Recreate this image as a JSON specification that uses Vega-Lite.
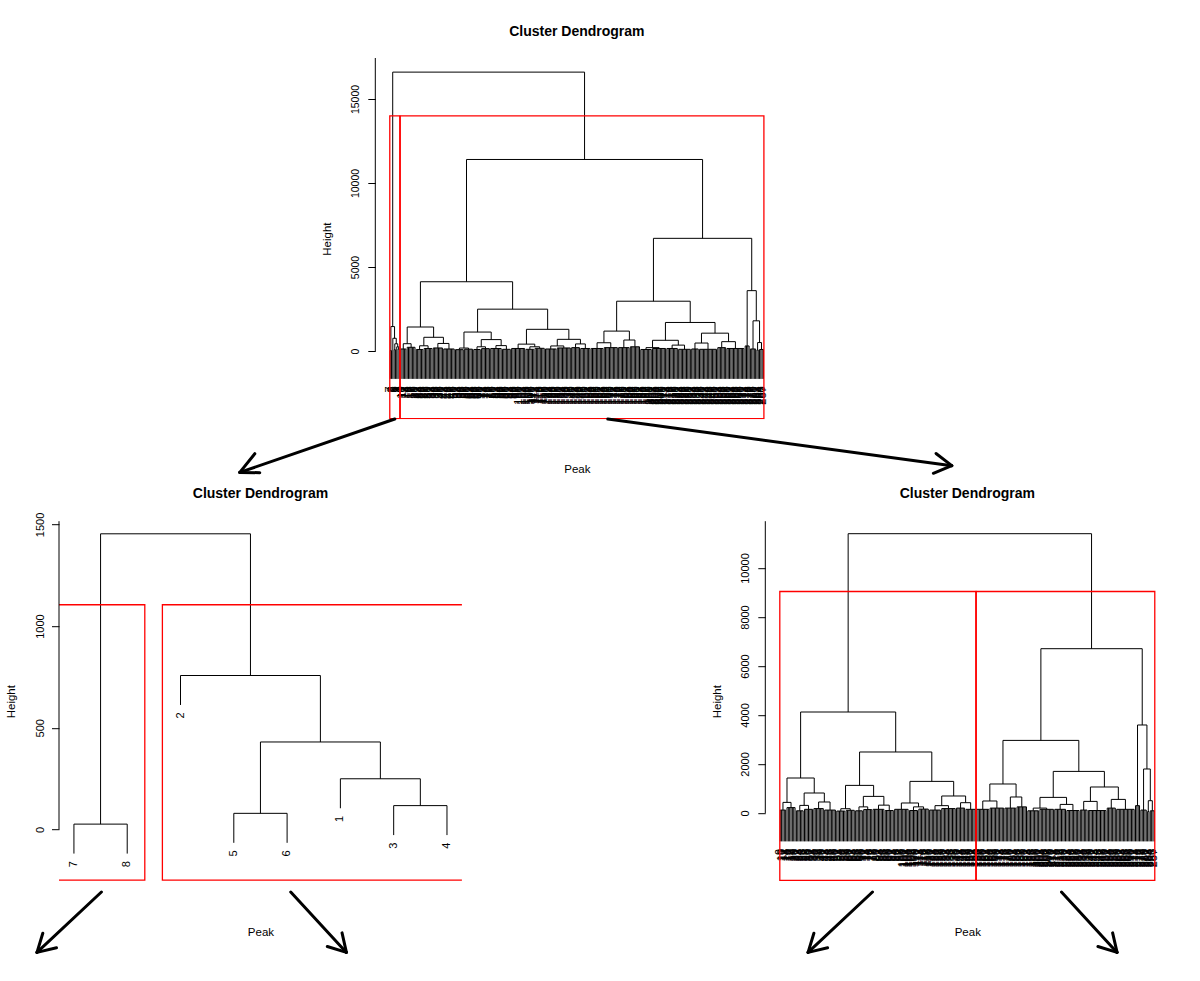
{
"$schema": "https://vega.github.io/schema/vega-lite/v6.json",
"background": "white",
"padding": {"left": 5, "top": 24, "right": 0, "bottom": 0},
"config": {"font": "Liberation Sans", "view": {"stroke": null}, "axis": {"grid": false, "labelColor": "black", "titleColor": "black", "tickColor": "black", "titleFontWeight": "normal"}},
"bounds": "flush",
"spacing": 463.2,
"datasets": {
"merges": [
{"xl":1,"xr":2,"h":26,"hl":26,"hr":26},
{"xl":4,"xr":5,"h":79,"hl":79,"hr":79},
{"xl":7,"xr":8,"h":117,"hl":117,"hr":117},
{"xl":6,"xr":7.5,"h":249,"hl":249,"hr":117},
{"xl":4.5,"xr":6.75,"h":430,"hl":79,"hr":249},
{"xl":3,"xr":5.625,"h":757,"hl":757,"hr":430},
{"xl":1.5,"xr":4.3125,"h":1454,"hl":26,"hr":757},
{"xl":2.90625,"xr":149.9,"h":16600,"hl":1454,"hr":11400},
{"xl":11,"xr":17,"h":433,"hl":120,"hr":220},
{"xl":23.5,"xr":30,"h":310,"hl":90,"hr":150},
{"xl":37.5,"xr":46,"h":449,"hl":180,"hr":120},
{"xl":26.75,"xr":41.75,"h":816,"hl":310,"hr":449},
{"xl":14,"xr":34.25,"h":1428,"hl":433,"hr":816},
{"xl":54,"xr":61,"h":175,"hl":80,"hr":110},
{"xl":67.5,"xr":74,"h":250,"hl":90,"hr":140},
{"xl":82,"xr":90,"h":320,"hl":150,"hr":100},
{"xl":70.75,"xr":86,"h":678,"hl":250,"hr":320},
{"xl":57.5,"xr":78.375,"h":1127,"hl":175,"hr":678},
{"xl":108,"xr":115.5,"h":250,"hl":100,"hr":160},
{"xl":99,"xr":111.75,"h":408,"hl":150,"hr":250},
{"xl":124,"xr":134,"h":300,"hl":120,"hr":180},
{"xl":143,"xr":150.5,"h":420,"hl":200,"hr":150},
{"xl":129,"xr":146.75,"h":694,"hl":300,"hr":420},
{"xl":105.375,"xr":137.875,"h":1290,"hl":408,"hr":694},
{"xl":67.9375,"xr":121.625,"h":2490,"hl":1127,"hr":1290},
{"xl":24.125,"xr":94.78,"h":4122,"hl":1428,"hr":2490},
{"xl":159.5,"xr":170,"h":490,"hl":150,"hr":200},
{"xl":180,"xr":188.5,"h":653,"hl":200,"hr":250},
{"xl":164.75,"xr":184.25,"h":1184,"hl":490,"hr":653},
{"xl":197,"xr":207,"h":200,"hl":90,"hr":150},
{"xl":217,"xr":226.5,"h":350,"hl":150,"hr":100},
{"xl":202,"xr":221.75,"h":637,"hl":200,"hr":350},
{"xl":234.5,"xr":244.5,"h":473,"hl":120,"hr":100},
{"xl":255,"xr":265.5,"h":555,"hl":200,"hr":150},
{"xl":239.5,"xr":260.25,"h":1061,"hl":473,"hr":555},
{"xl":211.875,"xr":249.875,"h":1698,"hl":637,"hr":1061},
{"xl":174.5,"xr":230.875,"h":2963,"hl":1184,"hr":1698},
{"xl":282.5,"xr":285.5,"h":502,"hl":60,"hr":90},
{"xl":279,"xr":284,"h":1796,"hl":120,"hr":502},
{"xl":274.5,"xr":281.5,"h":3592,"hl":300,"hr":1796},
{"xl":202.6875,"xr":278,"h":6706,"hl":2963,"hr":3592},
{"xl":59.45,"xr":240.34,"h":11400,"hl":4122,"hr":6706}
],
"rakes": [
{"a":9,"b":13,"h":120},{"a":14,"b":20,"h":220},{"a":21,"b":26,"h":90},{"a":27,"b":33,"h":150},
{"a":34,"b":41,"h":180},{"a":42,"b":50,"h":120},{"a":51,"b":57,"h":80},{"a":58,"b":64,"h":110},
{"a":65,"b":70,"h":90},{"a":71,"b":77,"h":140},{"a":78,"b":86,"h":150},{"a":87,"b":93,"h":100},
{"a":94,"b":104,"h":150},{"a":105,"b":111,"h":100},{"a":112,"b":119,"h":160},{"a":120,"b":128,"h":120},
{"a":129,"b":139,"h":180},{"a":140,"b":146,"h":200},{"a":147,"b":154,"h":150},{"a":155,"b":164,"h":150},
{"a":165,"b":175,"h":200},{"a":176,"b":184,"h":200},{"a":185,"b":192,"h":250},{"a":193,"b":201,"h":90},
{"a":202,"b":212,"h":150},{"a":213,"b":221,"h":150},{"a":222,"b":231,"h":100},{"a":232,"b":237,"h":120},
{"a":238,"b":251,"h":100},{"a":252,"b":258,"h":200},{"a":259,"b":272,"h":150},{"a":273,"b":276,"h":300},
{"a":277,"b":281,"h":120},{"a":282,"b":283,"h":60},{"a":284,"b":287,"h":90}
],
"small": [
{"p":1,"n":"7","t":26,"b":-119},
{"p":2,"n":"8","t":26,"b":-119},
{"p":3,"n":"2","t":757,"b":612},
{"p":4,"n":"5","t":79,"b":-66},
{"p":5,"n":"6","t":79,"b":-66},
{"p":6,"n":"1","t":249,"b":104},
{"p":7,"n":"3","t":117,"b":-28},
{"p":8,"n":"4","t":117,"b":-28}
],
"big": [
{"p":9,"t":120},{"p":10,"t":120},{"p":11,"t":120},{"p":12,"t":120},{"p":13,"t":120},
{"p":14,"t":220},{"p":15,"t":220},{"p":16,"t":220},{"p":17,"t":220},{"p":18,"t":220},{"p":19,"t":220},{"p":20,"t":220},
{"p":21,"t":90},{"p":22,"t":90},{"p":23,"t":90},{"p":24,"t":90},{"p":25,"t":90},{"p":26,"t":90},
{"p":27,"t":150},{"p":28,"t":150},{"p":29,"t":150},{"p":30,"t":150},{"p":31,"t":150},{"p":32,"t":150},{"p":33,"t":150},
{"p":34,"t":180},{"p":35,"t":180},{"p":36,"t":180},{"p":37,"t":180},{"p":38,"t":180},{"p":39,"t":180},{"p":40,"t":180},{"p":41,"t":180},
{"p":42,"t":120},{"p":43,"t":120},{"p":44,"t":120},{"p":45,"t":120},{"p":46,"t":120},{"p":47,"t":120},{"p":48,"t":120},{"p":49,"t":120},{"p":50,"t":120},
{"p":51,"t":80},{"p":52,"t":80},{"p":53,"t":80},{"p":54,"t":80},{"p":55,"t":80},{"p":56,"t":80},{"p":57,"t":80},
{"p":58,"t":110},{"p":59,"t":110},{"p":60,"t":110},{"p":61,"t":110},{"p":62,"t":110},{"p":63,"t":110},{"p":64,"t":110},
{"p":65,"t":90},{"p":66,"t":90},{"p":67,"t":90},{"p":68,"t":90},{"p":69,"t":90},{"p":70,"t":90},
{"p":71,"t":140},{"p":72,"t":140},{"p":73,"t":140},{"p":74,"t":140},{"p":75,"t":140},{"p":76,"t":140},{"p":77,"t":140},
{"p":78,"t":150},{"p":79,"t":150},{"p":80,"t":150},{"p":81,"t":150},{"p":82,"t":150},{"p":83,"t":150},{"p":84,"t":150},{"p":85,"t":150},{"p":86,"t":150},
{"p":87,"t":100},{"p":88,"t":100},{"p":89,"t":100},{"p":90,"t":100},{"p":91,"t":100},{"p":92,"t":100},{"p":93,"t":100},
{"p":94,"t":150},{"p":95,"t":150},{"p":96,"t":150},{"p":97,"t":150},{"p":98,"t":150},{"p":99,"t":150},{"p":100,"t":150},{"p":101,"t":150},{"p":102,"t":150},{"p":103,"t":150},{"p":104,"t":150},
{"p":105,"t":100},{"p":106,"t":100},{"p":107,"t":100},{"p":108,"t":100},{"p":109,"t":100},{"p":110,"t":100},{"p":111,"t":100},
{"p":112,"t":160},{"p":113,"t":160},{"p":114,"t":160},{"p":115,"t":160},{"p":116,"t":160},{"p":117,"t":160},{"p":118,"t":160},{"p":119,"t":160},
{"p":120,"t":120},{"p":121,"t":120},{"p":122,"t":120},{"p":123,"t":120},{"p":124,"t":120},{"p":125,"t":120},{"p":126,"t":120},{"p":127,"t":120},{"p":128,"t":120},
{"p":129,"t":180},{"p":130,"t":180},{"p":131,"t":180},{"p":132,"t":180},{"p":133,"t":180},{"p":134,"t":180},{"p":135,"t":180},{"p":136,"t":180},{"p":137,"t":180},{"p":138,"t":180},{"p":139,"t":180},
{"p":140,"t":200},{"p":141,"t":200},{"p":142,"t":200},{"p":143,"t":200},{"p":144,"t":200},{"p":145,"t":200},{"p":146,"t":200},
{"p":147,"t":150},{"p":148,"t":150},{"p":149,"t":150},{"p":150,"t":150},{"p":151,"t":150},{"p":152,"t":150},{"p":153,"t":150},{"p":154,"t":150},
{"p":155,"t":150},{"p":156,"t":150},{"p":157,"t":150},{"p":158,"t":150},{"p":159,"t":150},{"p":160,"t":150},{"p":161,"t":150},{"p":162,"t":150},{"p":163,"t":150},{"p":164,"t":150},
{"p":165,"t":200},{"p":166,"t":200},{"p":167,"t":200},{"p":168,"t":200},{"p":169,"t":200},{"p":170,"t":200},{"p":171,"t":200},{"p":172,"t":200},{"p":173,"t":200},{"p":174,"t":200},{"p":175,"t":200},
{"p":176,"t":200},{"p":177,"t":200},{"p":178,"t":200},{"p":179,"t":200},{"p":180,"t":200},{"p":181,"t":200},{"p":182,"t":200},{"p":183,"t":200},{"p":184,"t":200},
{"p":185,"t":250},{"p":186,"t":250},{"p":187,"t":250},{"p":188,"t":250},{"p":189,"t":250},{"p":190,"t":250},{"p":191,"t":250},{"p":192,"t":250},
{"p":193,"t":90},{"p":194,"t":90},{"p":195,"t":90},{"p":196,"t":90},{"p":197,"t":90},{"p":198,"t":90},{"p":199,"t":90},{"p":200,"t":90},{"p":201,"t":90},
{"p":202,"t":150},{"p":203,"t":150},{"p":204,"t":150},{"p":205,"t":150},{"p":206,"t":150},{"p":207,"t":150},{"p":208,"t":150},{"p":209,"t":150},{"p":210,"t":150},{"p":211,"t":150},{"p":212,"t":150},
{"p":213,"t":150},{"p":214,"t":150},{"p":215,"t":150},{"p":216,"t":150},{"p":217,"t":150},{"p":218,"t":150},{"p":219,"t":150},{"p":220,"t":150},{"p":221,"t":150},
{"p":222,"t":100},{"p":223,"t":100},{"p":224,"t":100},{"p":225,"t":100},{"p":226,"t":100},{"p":227,"t":100},{"p":228,"t":100},{"p":229,"t":100},{"p":230,"t":100},{"p":231,"t":100},
{"p":232,"t":120},{"p":233,"t":120},{"p":234,"t":120},{"p":235,"t":120},{"p":236,"t":120},{"p":237,"t":120},
{"p":238,"t":100},{"p":239,"t":100},{"p":240,"t":100},{"p":241,"t":100},{"p":242,"t":100},{"p":243,"t":100},{"p":244,"t":100},{"p":245,"t":100},{"p":246,"t":100},{"p":247,"t":100},{"p":248,"t":100},{"p":249,"t":100},{"p":250,"t":100},{"p":251,"t":100},
{"p":252,"t":200},{"p":253,"t":200},{"p":254,"t":200},{"p":255,"t":200},{"p":256,"t":200},{"p":257,"t":200},{"p":258,"t":200},
{"p":259,"t":150},{"p":260,"t":150},{"p":261,"t":150},{"p":262,"t":150},{"p":263,"t":150},{"p":264,"t":150},{"p":265,"t":150},{"p":266,"t":150},{"p":267,"t":150},{"p":268,"t":150},{"p":269,"t":150},{"p":270,"t":150},{"p":271,"t":150},{"p":272,"t":150},
{"p":273,"t":300},{"p":274,"t":300},{"p":275,"t":300},{"p":276,"t":300},
{"p":277,"t":120},{"p":278,"t":120},{"p":279,"t":120},{"p":280,"t":120},{"p":281,"t":120},
{"p":282,"t":60},{"p":283,"t":60},
{"p":284,"t":90},{"p":285,"t":90},{"p":286,"t":90},{"p":287,"t":90}
],
"boxes": [
{"panel":"top","x":0.66,"x2":8.33,"y":-4030,"y2":14000},
{"panel":"top","x":8.66,"x2":287.33,"y":-4030,"y2":14000},
{"panel":"bl","x":0.66,"x2":2.33,"y":-250,"y2":1105},
{"panel":"bl","x":2.66,"x2":8.33,"y":-250,"y2":1105},
{"panel":"br","x":8.66,"x2":154.33,"y":-2750,"y2":9040},
{"panel":"br","x":154.66,"x2":287.33,"y":-2750,"y2":9040}
],
"arrows": [
{"panel":"top","x":4.5,"y":-4048,"x2":-114.27,"y2":-7226},
{"panel":"top","x":-114.27,"y":-7226,"x2":-102.78,"y2":-6113},
{"panel":"top","x":-114.27,"y":-7226,"x2":-98.95,"y2":-7244},
{"panel":"top","x":167.72,"y":-4048,"x2":431.32,"y2":-6827},
{"panel":"top","x":431.32,"y":-6827,"x2":417.15,"y2":-7280},
{"panel":"top","x":431.32,"y":-6827,"x2":419.22,"y2":-6101},
{"panel":"bl","x":1.516,"y":-307.9,"x2":0.307,"y2":-605},
{"panel":"bl","x":0.307,"y":-605,"x2":0.673,"y2":-582.4},
{"panel":"bl","x":0.307,"y":-605,"x2":0.416,"y2":-511.1},
{"panel":"bl","x":5.068,"y":-307.9,"x2":6.113,"y2":-605},
{"panel":"bl","x":6.113,"y":-605,"x2":5.755,"y2":-576},
{"panel":"bl","x":6.113,"y":-605,"x2":6.031,"y2":-509.1},
{"panel":"br","x":77.54,"y":-3224,"x2":29.68,"y2":-5690},
{"panel":"br","x":29.68,"y":-5690,"x2":44.18,"y2":-5502},
{"panel":"br","x":29.68,"y":-5690,"x2":33.99,"y2":-4910},
{"panel":"br","x":217.99,"y":-3224,"x2":259.3,"y2":-5690},
{"panel":"br","x":259.3,"y":-5690,"x2":245.1,"y2":-5449},
{"panel":"br","x":259.3,"y":-5690,"x2":256.0,"y2":-4894}
]
},
"vconcat": [
{
"hconcat": [
{
"width": 12.9, "height": 361.2,
"data": {"values": []},
"mark": {"type": "point", "opacity": 0}
},
{
"width": 403.1, "height": 361.2,
"title": {"text": "Cluster Dendrogram", "fontSize": 14, "fontWeight": "bold", "offset": 7.6, "baseline": "alphabetic", "frame": "group", "anchor": "middle", "color": "black"},
"layer": [
{"data": {"name": "merges"}, "mark": {"type": "rule", "color": "black", "strokeWidth": 1},
 "encoding": {
  "x": {"field": "xl", "type": "quantitative", "scale": {"domain": [-10.44, 298.44], "nice": false, "zero": false},
        "axis": {"title": "Peak", "labels": false, "ticks": false, "domain": false, "grid": false, "titleY": 53, "titleBaseline": "alphabetic", "titleFontSize": 11.5, "titleFontWeight": "normal", "titleColor": "black"}},
  "x2": {"field": "xr"},
  "y": {"field": "h", "type": "quantitative", "scale": {"domain": [-4060, 17440], "nice": false, "zero": false},
        "axis": {"title": "Height", "values": [0, 5000, 10000, 15000], "format": "d", "domain": false, "grid": false, "tickSize": 7.5, "tickColor": "black", "labelAngle": 270, "labelAlign": "center", "labelBaseline": "alphabetic", "labelPadding": 9, "labelFontSize": 10.5, "labelColor": "black", "labelOverlap": false, "labelFlush": false, "titleFontSize": 11.5, "titleFontWeight": "normal", "titleColor": "black", "titleAngle": 270, "titleBaseline": "alphabetic", "titleX": -45}}
 }},
{"data": {"name": "merges"}, "mark": {"type": "rule", "color": "black", "strokeWidth": 1},
 "encoding": {"x": {"field": "xl", "type": "quantitative"}, "y": {"field": "hl", "type": "quantitative"}, "y2": {"field": "h"}}},
{"data": {"name": "merges"}, "mark": {"type": "rule", "color": "black", "strokeWidth": 1},
 "encoding": {"x": {"field": "xr", "type": "quantitative"}, "y": {"field": "hr", "type": "quantitative"}, "y2": {"field": "h"}}},
{"data": {"name": "rakes"}, "mark": {"type": "rule", "color": "black", "strokeWidth": 1},
 "encoding": {"x": {"field": "a", "type": "quantitative"}, "x2": {"field": "b"}, "y": {"field": "h", "type": "quantitative"}}},
{"data": {"name": "big"}, "mark": {"type": "rule", "color": "black", "strokeWidth": 1},
 "encoding": {"x": {"field": "p", "type": "quantitative"}, "y": {"field": "t", "type": "quantitative"}, "y2": {"datum": -1660}}},
{"data": {"name": "small"}, "mark": {"type": "rule", "color": "black", "strokeWidth": 1},
 "encoding": {"x": {"field": "p", "type": "quantitative"}, "y": {"field": "t", "type": "quantitative"}, "y2": {"datum": -1660}}},
{"data": {"name": "big"}, "mark": {"type": "text", "angle": 270, "align": "right", "baseline": "middle", "dx": -7.5, "fontSize": 11, "color": "black"},
 "encoding": {"x": {"field": "p", "type": "quantitative"}, "y": {"datum": -1660}, "text": {"field": "p", "type": "nominal"}}},
{"data": {"name": "small"}, "mark": {"type": "text", "angle": 270, "align": "right", "baseline": "middle", "dx": -7.5, "fontSize": 11, "color": "black"},
 "encoding": {"x": {"field": "p", "type": "quantitative"}, "y": {"datum": -1660}, "text": {"field": "n", "type": "nominal"}}},
{"data": {"name": "boxes"}, "transform": [{"filter": "datum.panel === 'top'"}], "mark": {"type": "rect", "filled": false, "color": "#ff0000", "stroke": "#ff0000", "strokeWidth": 1.3, "clip": true},
 "encoding": {"x": {"field": "x", "type": "quantitative"}, "x2": {"field": "x2"}, "y": {"field": "y", "type": "quantitative"}, "y2": {"field": "y2"}}},
{"data": {"values": [{}]}, "mark": {"type": "rule", "color": "black", "strokeWidth": 1},
 "encoding": {"x": {"datum": -10.44}, "y": {"datum": 0}, "y2": {"datum": 17440}}},
{"data": {"name": "arrows"}, "transform": [{"filter": "datum.panel === 'top'"}], "mark": {"type": "rule", "color": "black", "strokeWidth": 3, "strokeCap": "round"},
 "encoding": {"x": {"field": "x", "type": "quantitative"}, "x2": {"field": "x2"}, "y": {"field": "y", "type": "quantitative"}, "y2": {"field": "y2"}}}
]
}
],
"spacing": 303.3,
"bounds": "flush"
},
{
"hconcat": [
{
"width": 402.9, "height": 360,
"title": {"text": "Cluster Dendrogram", "fontSize": 14, "fontWeight": "bold", "offset": 0, "baseline": "alphabetic", "frame": "group", "anchor": "middle", "color": "black"},
"layer": [
{"data": {"name": "merges"}, "transform": [{"filter": "datum.xr <= 8"}], "mark": {"type": "rule", "color": "black", "strokeWidth": 1},
 "encoding": {
  "x": {"field": "xl", "type": "quantitative", "scale": {"domain": [0.72, 8.28], "nice": false, "zero": false},
        "axis": {"title": "Peak", "labels": false, "ticks": false, "domain": false, "grid": false, "titleY": 54, "titleBaseline": "alphabetic", "titleFontSize": 11.5, "titleFontWeight": "normal", "titleColor": "black"}},
  "x2": {"field": "xr"},
  "y": {"field": "h", "type": "quantitative", "scale": {"domain": [-254.8, 1516], "nice": false, "zero": false},
        "axis": {"title": "Height", "values": [0, 500, 1000, 1500], "format": "d", "domain": false, "grid": false, "tickSize": 7.5, "tickColor": "black", "labelAngle": 270, "labelAlign": "center", "labelBaseline": "alphabetic", "labelPadding": 8.5, "labelFontSize": 11, "labelColor": "black", "labelOverlap": false, "labelFlush": false, "titleFontSize": 11.5, "titleFontWeight": "normal", "titleColor": "black", "titleAngle": 270, "titleBaseline": "alphabetic", "titleX": -45}}
 }},
{"data": {"name": "merges"}, "transform": [{"filter": "datum.xr <= 8"}], "mark": {"type": "rule", "color": "black", "strokeWidth": 1},
 "encoding": {"x": {"field": "xl", "type": "quantitative"}, "y": {"field": "hl", "type": "quantitative"}, "y2": {"field": "h"}}},
{"data": {"name": "merges"}, "transform": [{"filter": "datum.xr <= 8"}], "mark": {"type": "rule", "color": "black", "strokeWidth": 1},
 "encoding": {"x": {"field": "xr", "type": "quantitative"}, "y": {"field": "hr", "type": "quantitative"}, "y2": {"field": "h"}}},
{"data": {"name": "small"}, "mark": {"type": "rule", "color": "black", "strokeWidth": 1},
 "encoding": {"x": {"field": "p", "type": "quantitative"}, "y": {"field": "t", "type": "quantitative"}, "y2": {"field": "b"}}},
{"data": {"name": "small"}, "mark": {"type": "text", "angle": 270, "align": "right", "baseline": "middle", "dx": -7.5, "fontSize": 11, "color": "black"},
 "encoding": {"x": {"field": "p", "type": "quantitative"}, "y": {"field": "b", "type": "quantitative"}, "text": {"field": "n", "type": "nominal"}}},
{"data": {"name": "boxes"}, "transform": [{"filter": "datum.panel === 'bl'"}], "mark": {"type": "rect", "filled": false, "color": "#ff0000", "stroke": "#ff0000", "strokeWidth": 1.3, "clip": true},
 "encoding": {"x": {"field": "x", "type": "quantitative"}, "x2": {"field": "x2"}, "y": {"field": "y", "type": "quantitative"}, "y2": {"field": "y2"}}},
{"data": {"values": [{}]}, "mark": {"type": "rule", "color": "black", "strokeWidth": 1},
 "encoding": {"x": {"datum": 0.72}, "y": {"datum": 0}, "y2": {"datum": 1516}}},
{"data": {"name": "arrows"}, "transform": [{"filter": "datum.panel === 'bl'"}], "mark": {"type": "rule", "color": "black", "strokeWidth": 3, "strokeCap": "round"},
 "encoding": {"x": {"field": "x", "type": "quantitative"}, "x2": {"field": "x2"}, "y": {"field": "y", "type": "quantitative"}, "y2": {"field": "y2"}}}
]
},
{
"width": 404, "height": 360,
"title": {"text": "Cluster Dendrogram", "fontSize": 14, "fontWeight": "bold", "offset": 8.7, "baseline": "alphabetic", "frame": "group", "anchor": "middle", "color": "black"},
"layer": [
{"data": {"name": "merges"}, "transform": [{"filter": "datum.xl >= 8.5"}], "mark": {"type": "rule", "color": "black", "strokeWidth": 1},
 "encoding": {
  "x": {"field": "xl", "type": "quantitative", "scale": {"domain": [-2.12, 298.12], "nice": false, "zero": false},
        "axis": {"title": "Peak", "labels": false, "ticks": false, "domain": false, "grid": false, "titleY": 54, "titleBaseline": "alphabetic", "titleFontSize": 11.5, "titleFontWeight": "normal", "titleColor": "black"}},
  "x2": {"field": "xr"},
  "y": {"field": "h", "type": "quantitative", "scale": {"domain": [-2784, 11910], "nice": false, "zero": false},
        "axis": {"title": "Height", "values": [0, 2000, 4000, 6000, 8000, 10000], "format": "d", "domain": false, "grid": false, "tickSize": 7.5, "tickColor": "black", "labelAngle": 270, "labelAlign": "center", "labelBaseline": "alphabetic", "labelPadding": 9, "labelFontSize": 11, "labelColor": "black", "labelOverlap": false, "labelFlush": false, "titleFontSize": 11.5, "titleFontWeight": "normal", "titleColor": "black", "titleAngle": 270, "titleBaseline": "alphabetic", "titleX": -45}}
 }},
{"data": {"name": "merges"}, "transform": [{"filter": "datum.xl >= 8.5"}], "mark": {"type": "rule", "color": "black", "strokeWidth": 1},
 "encoding": {"x": {"field": "xl", "type": "quantitative"}, "y": {"field": "hl", "type": "quantitative"}, "y2": {"field": "h"}}},
{"data": {"name": "merges"}, "transform": [{"filter": "datum.xl >= 8.5"}], "mark": {"type": "rule", "color": "black", "strokeWidth": 1},
 "encoding": {"x": {"field": "xr", "type": "quantitative"}, "y": {"field": "hr", "type": "quantitative"}, "y2": {"field": "h"}}},
{"data": {"name": "rakes"}, "mark": {"type": "rule", "color": "black", "strokeWidth": 1},
 "encoding": {"x": {"field": "a", "type": "quantitative"}, "x2": {"field": "b"}, "y": {"field": "h", "type": "quantitative"}}},
{"data": {"name": "big"}, "mark": {"type": "rule", "color": "black", "strokeWidth": 1},
 "encoding": {"x": {"field": "p", "type": "quantitative"}, "y": {"field": "t", "type": "quantitative"}, "y2": {"datum": -1160}}},
{"data": {"name": "big"}, "mark": {"type": "text", "angle": 270, "align": "right", "baseline": "middle", "dx": -7.5, "fontSize": 11, "color": "black"},
 "encoding": {"x": {"field": "p", "type": "quantitative"}, "y": {"datum": -1160}, "text": {"field": "p", "type": "nominal"}}},
{"data": {"name": "boxes"}, "transform": [{"filter": "datum.panel === 'br'"}], "mark": {"type": "rect", "filled": false, "color": "#ff0000", "stroke": "#ff0000", "strokeWidth": 1.3, "clip": true},
 "encoding": {"x": {"field": "x", "type": "quantitative"}, "x2": {"field": "x2"}, "y": {"field": "y", "type": "quantitative"}, "y2": {"field": "y2"}}},
{"data": {"values": [{}]}, "mark": {"type": "rule", "color": "black", "strokeWidth": 1},
 "encoding": {"x": {"datum": -2.12}, "y": {"datum": 0}, "y2": {"datum": 11910}}},
{"data": {"name": "arrows"}, "transform": [{"filter": "datum.panel === 'br'"}], "mark": {"type": "rule", "color": "black", "strokeWidth": 3, "strokeCap": "round"},
 "encoding": {"x": {"field": "x", "type": "quantitative"}, "x2": {"field": "x2"}, "y": {"field": "y", "type": "quantitative"}, "y2": {"field": "y2"}}}
]
}
],
"spacing": 303.3,
"bounds": "flush"
}
]
}
